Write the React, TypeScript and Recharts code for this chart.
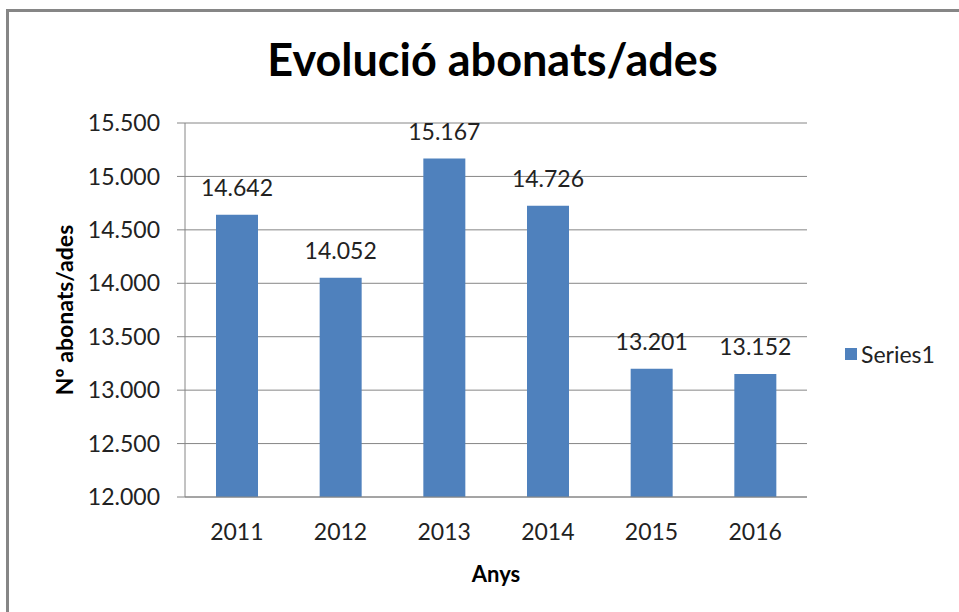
import React from "react";
import { BarChart, Bar, XAxis, YAxis, CartesianGrid, LabelList, Legend } from "recharts";

const YEARS = ["2011", "2012", "2013", "2014", "2015", "2016"];
const SUBSCRIBERS = [14642, 14052, 15167, 14726, 13201, 13152];
const Y_TICKS = [12000, 12500, 13000, 13500, 14000, 14500, 15000, 15500];
const BOUNDARY_TICKS = [0, 1, 2, 3, 4, 5, 6];

const data = YEARS.map((year, i) => ({ year, value: SUBSCRIBERS[i] }));

const FONT = "Lato, 'Open Sans', sans-serif";
const LINE = "#868686";
const BAR = "#4F81BD";

// catalan style thousands: 14.642
const fmt = (v: number) => {
  const k = Math.floor(v / 1000);
  const r = String(v % 1000).padStart(3, "0");
  return `${k}.${r}`;
};

const LegendBox = () => (
  <div style={{ display: "flex", alignItems: "center", fontFamily: FONT, fontSize: 23, color: "#222" }}>
    <span style={{ width: 12, height: 12, background: BAR, display: "inline-block", marginRight: 4 }} />
    <span>Series1</span>
  </div>
);

export default function App() {
  return (
    <div style={{ position: "absolute", left: 0, top: 0, width: 959, height: 612, overflow: "hidden", background: "#fff" }}>
      <div
        style={{
          position: "absolute",
          left: 6,
          top: 9,
          width: 1100,
          height: 800,
          borderTop: `3px solid ${LINE}`,
          borderLeft: `3px solid ${LINE}`,
        }}
      />
      <div
        style={{
          position: "absolute",
          left: 0,
          top: 37,
          width: 985,
          textAlign: "center",
          fontFamily: FONT,
          fontWeight: 700,
          fontSize: 45,
          lineHeight: 1,
          color: "#000",
        }}
      >
        Evolució abonats/ades
      </div>
      <BarChart
        width={959}
        height={612}
        data={data}
        margin={{ top: 123, right: 152, bottom: 20, left: 65 }}
        style={{ position: "absolute", left: 0, top: 0 }}
      >
        <CartesianGrid vertical={false} stroke={LINE} strokeWidth={1} />
        <XAxis
          xAxisId="edges"
          type="number"
          domain={[0, 6]}
          ticks={BOUNDARY_TICKS}
          tick={false}
          tickSize={8}
          tickLine={{ stroke: LINE }}
          axisLine={false}
          height={1}
        />
        <XAxis
          dataKey="year"
          tickLine={false}
          tickSize={7}
          tickMargin={20}
          axisLine={{ stroke: LINE }}
          tick={{ fontFamily: FONT, fontSize: 23, fill: "#222" }}
          height={94}
          label={{
            value: "Anys",
            position: "insideBottom",
            offset: 9,
            style: { fontFamily: FONT, fontSize: 22, fontWeight: 700, fill: "#000" },
          }}
        />
        <YAxis
          domain={[12000, 15500]}
          ticks={Y_TICKS}
          tickFormatter={fmt}
          width={120}
          tickSize={8}
          tickMargin={17}
          tickLine={{ stroke: LINE }}
          axisLine={{ stroke: LINE }}
          tick={{ fontFamily: FONT, fontSize: 23, fill: "#222" }}
          label={{
            value: "Nº abonats/ades",
            angle: -90,
            position: "insideLeft",
            offset: 0,
            style: { fontFamily: FONT, fontSize: 23, fontWeight: 700, fill: "#000", textAnchor: "middle" },
          }}
        />
        <Legend
          layout="horizontal"
          verticalAlign="middle"
          content={() => <LegendBox />}
          wrapperStyle={{ left: 845, top: 340, width: 110 }}
        />
        <Bar dataKey="value" name="Series1" fill={BAR} barSize={42} isAnimationActive={false}>
          <LabelList
            dataKey="value"
            position="top"
            offset={19}
            formatter={(v: any) => fmt(Number(v))}
            style={{ fontFamily: FONT, fontSize: 23, fill: "#222" }}
          />
        </Bar>
      </BarChart>
    </div>
  );
}
